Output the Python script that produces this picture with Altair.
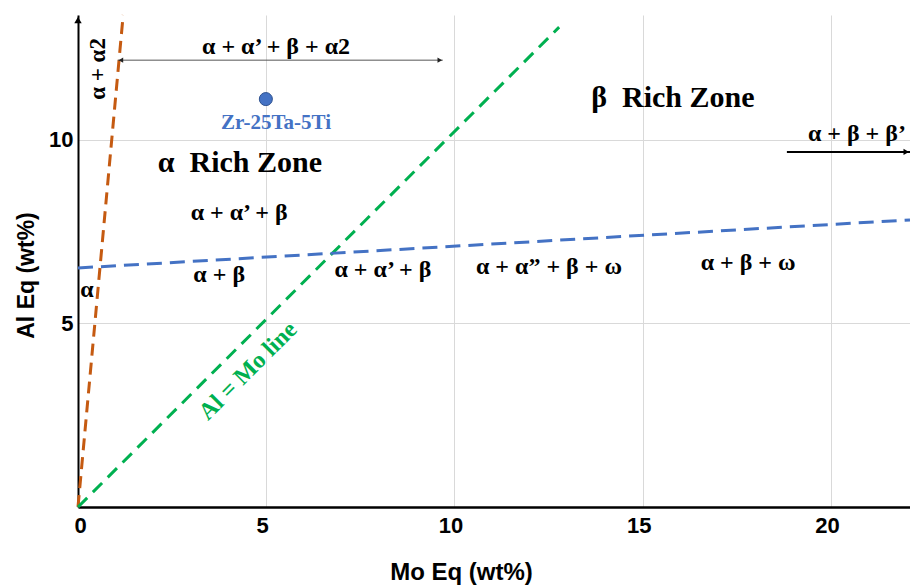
import altair as alt
import pandas as pd

X_MAX = 22.1
Y_MAX = 13.4

# Boundary lines (end points, data units)
orange_x = [0.0, 1.2]
orange_y = [0.0, 13.4]
green_x = [0.0, 12.78]
green_y = [0.0, 13.07]
blue_x = [0.0, 22.1]
blue_y = [6.51, 7.82]

# Alloy point
sample_x = [4.99]
sample_y = [11.11]
sample_label = ["Zr-25Ta-5Ti"]
sample_label_x = [5.26]
sample_label_y = [10.46]

# Phase field labels
phase_text = ["α + α’ + β + α2", "α + α’ + β", "α + β", "α + α’ + β", "α",
              "α + α” + β + ω", "α + β + ω", "α + β + β’"]
phase_x = [5.26, 4.28, 3.75, 8.10, 0.24, 12.51, 17.80, 20.69]
phase_y = [12.53, 8.01, 6.32, 6.45, 5.91, 6.54, 6.64, 10.16]

zone_text = ["α\u00a0 Rich Zone", "β\u00a0 Rich Zone"]
zone_x = [4.30, 15.80]
zone_y = [9.37, 11.14]

vert_text = ["α + α2"]
vert_x = [0.53]
vert_y = [11.93]

mo_text = ["Al = Mo line"]
mo_x = [4.52]
mo_y = [3.70]

# Arrows
arrow1_x = [1.06, 9.69]
arrow1_y = 12.17
arrow2_x = [18.83, 22.1]
arrow2_y = 9.67

x_ticks = [0, 5, 10, 15, 20]
y_ticks = [5, 10]

SERIF = "Liberation Serif"
SANS = "Liberation Sans"

xs = alt.Scale(domain=[0, X_MAX], nice=False, zero=False)
ys = alt.Scale(domain=[0, Y_MAX], nice=False, zero=False)

x_axis = alt.Axis(values=x_ticks, grid=True, gridColor="#d9d9d9",
                  ticks=False, domainColor="black", domainWidth=2.5,
                  labelFont=SANS, labelFontWeight="bold", labelFontSize=22,
                  labelColor="black", labelPadding=8, labelOffset=-4,
                  titleFont=SANS, titleFontWeight="bold", titleFontSize=24,
                  titleColor="black", titleX=383, titleY=65,
                  titleBaseline="middle", titleAlign="center")
y_axis = alt.Axis(values=y_ticks, grid=True, gridColor="#d9d9d9",
                  ticks=False, domainColor="black", domainWidth=2,
                  labelFont=SANS, labelFontWeight="bold", labelFontSize=22,
                  labelColor="black", labelPadding=5,
                  titleFont=SANS, titleFontWeight="bold", titleFontSize=23,
                  titleColor="black", titleX=-52, titleY=260, titleAngle=270,
                  titleBaseline="middle", titleAlign="center")

def X():
    return alt.X("x:Q", scale=xs, title="Mo Eq (wt%)", axis=x_axis)

def Y():
    return alt.Y("y:Q", scale=ys, title="Al Eq (wt%)", axis=y_axis)


def line_layer(xv, yv, color, dash, width=3):
    df = pd.DataFrame({"x": xv, "y": yv})
    return alt.Chart(df).mark_line(color=color, strokeDash=dash, strokeWidth=width).encode(
        x=X(), y=Y())

orange = line_layer(orange_x, orange_y, "#C55A11", [12, 7])
green = line_layer(green_x, green_y, "#00B050", [13, 8])
blue = line_layer(blue_x, blue_y, "#4472C4", [15, 8])

# y-axis arrow head
yarrow = alt.Chart(pd.DataFrame({"x": [0.0], "y": [Y_MAX - 0.14]})).mark_point(
    shape="triangle-up", filled=True, color="black", size=55, opacity=1).encode(x=X(), y=Y())

# Double arrow (top)
a1_df = pd.DataFrame({"x": [arrow1_x[0]], "x2": [arrow1_x[1]], "y": [arrow1_y]})
a1_line = alt.Chart(a1_df).mark_rule(color="#555555", strokeWidth=1).encode(
    x=X(), x2="x2:Q", y=Y())
a1_heads = alt.Chart(pd.DataFrame({"x": [arrow1_x[0] + 0.08, arrow1_x[1] - 0.08],
                                   "y": [arrow1_y, arrow1_y],
                                   "s": ["triangle-left", "triangle-right"]})).mark_point(
    filled=True, color="#222222", size=28, opacity=1).encode(
    x=X(), y=Y(), shape=alt.Shape("s:N", scale=None, legend=None))

# Right arrow
a2_df = pd.DataFrame({"x": [arrow2_x[0]], "x2": [arrow2_x[1]], "y": [arrow2_y]})
a2_line = alt.Chart(a2_df).mark_rule(color="black", strokeWidth=2).encode(
    x=X(), x2="x2:Q", y=Y())
a2_head = alt.Chart(pd.DataFrame({"x": [arrow2_x[1] - 0.1], "y": [arrow2_y]})).mark_point(
    shape="triangle-right", filled=True, color="black", size=40, opacity=1).encode(x=X(), y=Y())

# Sample point and its label
pt = alt.Chart(pd.DataFrame({"x": sample_x, "y": sample_y})).mark_point(
    filled=True, color="#4472C4", size=170, opacity=1, stroke="#2F528F", strokeWidth=1).encode(
    x=X(), y=Y())
pt_lbl = alt.Chart(pd.DataFrame({"x": sample_label_x, "y": sample_label_y, "t": sample_label})).mark_text(
    font=SERIF, fontWeight="bold", fontSize=21, color="#4472C4", align="center", baseline="middle").encode(
    x=X(), y=Y(), text="t:N")

phase = alt.Chart(pd.DataFrame({"x": phase_x, "y": phase_y, "t": phase_text})).mark_text(
    font=SERIF, fontWeight="bold", fontSize=24, color="black", align="center", baseline="middle").encode(
    x=X(), y=Y(), text="t:N")

zones = alt.Chart(pd.DataFrame({"x": zone_x, "y": zone_y, "t": zone_text})).mark_text(
    font=SERIF, fontWeight="bold", fontSize=30, color="black", align="center", baseline="middle").encode(
    x=X(), y=Y(), text="t:N")

vert = alt.Chart(pd.DataFrame({"x": vert_x, "y": vert_y, "t": vert_text})).mark_text(
    font=SERIF, fontWeight="bold", fontSize=23, color="black", align="center", baseline="middle",
    angle=270).encode(x=X(), y=Y(), text="t:N")

mo = alt.Chart(pd.DataFrame({"x": mo_x, "y": mo_y, "t": mo_text})).mark_text(
    font=SERIF, fontWeight="bold", fontSize=24, color="#00B050", align="center", baseline="middle",
    angle=315).encode(x=X(), y=Y(), text="t:N")

chart = alt.layer(
    orange, green, blue, yarrow, a1_line, a1_heads, a2_line, a2_head,
    pt, pt_lbl, phase, zones, vert, mo
).properties(
    width=832, height=492,
    autosize=alt.AutoSizeParams(type="none"),
    padding={"left": 78, "top": 15, "right": 0, "bottom": 81},
    background="white",
).configure_view(stroke=None)

chart.save("out.html", embed_options={"renderer": "svg", "actions": False})
